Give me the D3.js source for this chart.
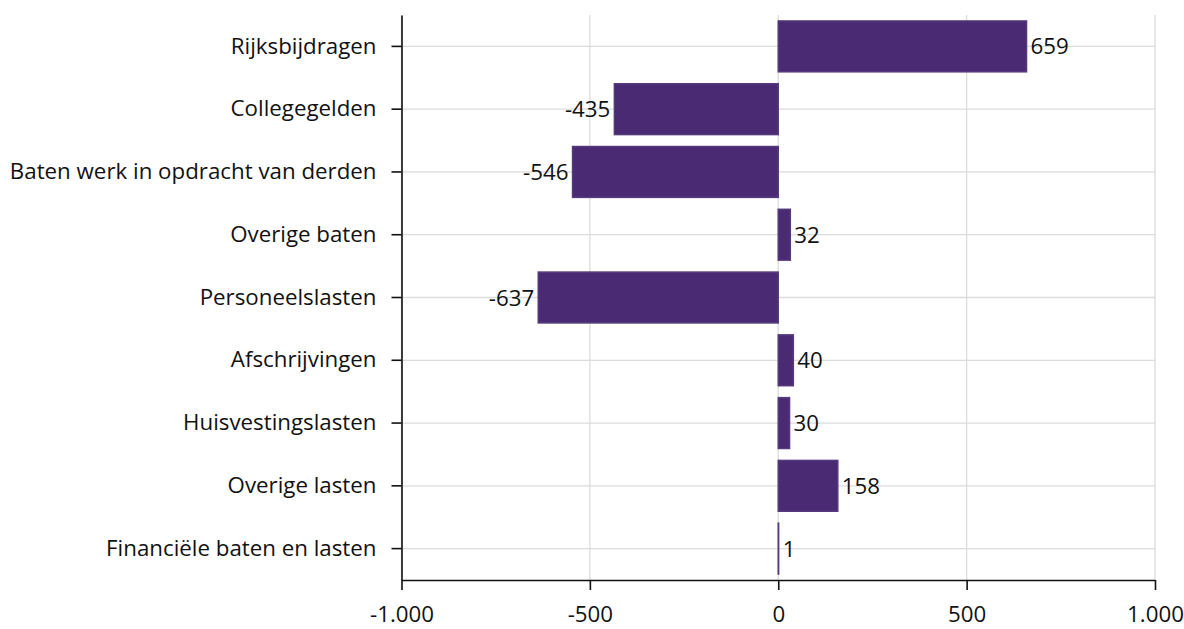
<!DOCTYPE html>
<html>
<head>
<meta charset="utf-8">
<script src="https://cdn.jsdelivr.net/npm/d3@7"></script>
<style>
  body { margin: 0; background: #fff; }
  svg { display: block; font-family: "Open Sans", "Noto Sans", sans-serif; }
</style>
</head>
<body>
<svg id="chart" width="1184" height="629"></svg>
<script>
// Verschillen per post (x 1.000 euro)
const categories = [
  "Rijksbijdragen",
  "Collegegelden",
  "Baten werk in opdracht van derden",
  "Overige baten",
  "Personeelslasten",
  "Afschrijvingen",
  "Huisvestingslasten",
  "Overige lasten",
  "Financiële baten en lasten"
];
const values = [659, -435, -546, 32, -637, 40, 30, 158, 1];
const xTicks = [-1000, -500, 0, 500, 1000];

const svg = d3.select("#chart");
const margin = { top: 15, right: 29, bottom: 49, left: 401.5 };
const width = 1184, height = 629;
const fontSize = 22.3;
const textColor = "#111";

const nl = d3.formatLocale({ decimal: ",", thousands: ".", grouping: [3], currency: ["€", ""], minus: "-" });
const fmt = nl.format(",d");

const x = d3.scaleLinear().domain([-1000, 1000]).range([margin.left, width - margin.right]);
const y = d3.scaleBand().domain(categories).range([margin.top, height - margin.bottom]).paddingInner(0.19).paddingOuter(0.095);

const gridColor = "#dcdcdc";

// vertical gridlines
svg.append("g").selectAll("line").data(xTicks).join("line")
  .attr("x1", d => x(d)).attr("x2", d => x(d))
  .attr("y1", margin.top).attr("y2", height - margin.bottom)
  .attr("stroke", gridColor).attr("stroke-width", 1.3);

// horizontal gridlines at category centres
svg.append("g").selectAll("line").data(categories).join("line")
  .attr("x1", margin.left).attr("x2", x(1000))
  .attr("y1", d => y(d) + y.bandwidth() / 2).attr("y2", d => y(d) + y.bandwidth() / 2)
  .attr("stroke", gridColor).attr("stroke-width", 1.3);

// bars
const barColor = "#4a2a73";
svg.append("g").selectAll("rect").data(values).join("rect")
  .attr("x", d => x(Math.min(0, d)))
  .attr("width", d => Math.abs(x(d) - x(0)))
  .attr("y", (d, i) => y(categories[i]))
  .attr("height", y.bandwidth())
  .attr("fill", barColor)
  .attr("stroke", "#553a7d")
  .attr("stroke-width", 1.5);

// value labels
svg.append("g").selectAll("text").data(values).join("text")
  .attr("x", d => d >= 0 ? x(d) + 4 : x(d) - 4)
  .attr("y", (d, i) => y(categories[i]) + y.bandwidth() / 2)
  .attr("dy", "0.36em")
  .attr("text-anchor", d => d >= 0 ? "start" : "end")
  .attr("font-size", fontSize)
  .attr("fill", textColor)
  .text(d => fmt(d));

// y axis
const yAxis = svg.append("g")
  .attr("transform", `translate(${margin.left},0)`)
  .call(d3.axisLeft(y).tickSize(10).tickPadding(15).tickSizeOuter(0));
yAxis.select(".domain").attr("stroke", textColor).attr("stroke-width", 1.6);
yAxis.selectAll(".tick line").attr("stroke", textColor).attr("stroke-width", 1.6);
yAxis.selectAll(".tick text").attr("font-size", fontSize).attr("fill", textColor)
  .attr("font-family", "\"Open Sans\", \"Noto Sans\", sans-serif");

// x axis
const xAxis = svg.append("g")
  .attr("transform", `translate(0,${height - margin.bottom})`)
  .call(d3.axisBottom(x).tickValues(xTicks).tickFormat(fmt).tickSize(10).tickPadding(16).tickSizeOuter(0));
xAxis.select(".domain").attr("stroke", textColor).attr("stroke-width", 1.6);
xAxis.selectAll(".tick line").attr("stroke", textColor).attr("stroke-width", 1.6);
xAxis.selectAll(".tick text").attr("font-size", fontSize).attr("fill", textColor)
  .attr("font-family", "\"Open Sans\", \"Noto Sans\", sans-serif");
</script>
</body>
</html>
